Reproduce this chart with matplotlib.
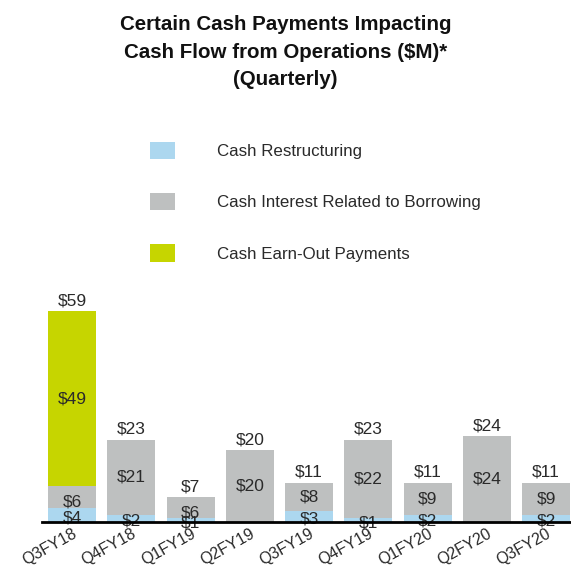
import matplotlib
matplotlib.use('Agg')
import matplotlib.pyplot as plt
import numpy as np

plt.rcParams['font.family'] = ['Liberation Sans', 'DejaVu Sans']

# данные по кварталам
quarters = ['Q3FY18', 'Q4FY18', 'Q1FY19', 'Q2FY19', 'Q3FY19',
            'Q4FY19', 'Q1FY20', 'Q2FY20', 'Q3FY20']
restructuring = [4, 2, 1, 0, 3, 1, 2, 0, 2]
interest = [6, 21, 6, 20, 8, 22, 9, 24, 9]
earn_out = [49, 0, 0, 0, 0, 0, 0, 0, 0]
totals = [59, 23, 7, 20, 11, 23, 11, 24, 11]

c_blue = '#acd7ef'
c_gray = '#bec0c0'
c_green = '#c6d500'

fig = plt.figure(figsize=(5.71, 5.70), dpi=100)
ax = fig.add_axes([42 / 571, 48 / 570, 1 - 42 / 571, 211 / 570])

x = np.arange(len(quarters))
r = np.array(restructuring)
i = np.array(interest)
e = np.array(earn_out)

b1 = ax.bar(x, r, width=0.81, color=c_blue, label='Cash Restructuring')
b2 = ax.bar(x, i, width=0.81, bottom=r, color=c_gray,
            label='Cash Interest Related to Borrowing')
b3 = ax.bar(x, e, width=0.81, bottom=r + i, color=c_green,
            label='Cash Earn-Out Payments')

fs = 12.5
tc = '#2a2a2a'
# подписи сегментов
for k in range(len(x)):
    if r[k] > 0:
        ax.text(x[k], r[k] / 2 - 0.8, f'${r[k]}', ha='center', va='center',
                fontsize=fs, color=tc, clip_on=False)
    if i[k] > 0:
        yy = r[k] + i[k] / 2
        if i[k] < 8:
            yy -= 1.5
        ax.text(x[k], yy, f'${i[k]}', ha='center', va='center',
                fontsize=fs, color=tc)
    if e[k] > 0:
        ax.text(x[k], r[k] + i[k] + e[k] / 2, f'${e[k]}', ha='center',
                va='center', fontsize=fs, color=tc)
    ax.text(x[k], totals[k] + 0.8, f'${totals[k]}', ha='center', va='bottom',
            fontsize=fs, color=tc, clip_on=False)

ax.set_xlim(-0.506, 8.42)
ax.set_ylim(0, 59)
for s in ['top', 'right', 'left']:
    ax.spines[s].set_visible(False)
ax.spines['bottom'].set_linewidth(2)
ax.spines['bottom'].set_zorder(5)
ax.set_yticks([])
ax.set_xticks(x)
ax.set_xticklabels(quarters, rotation=29, ha='right', rotation_mode='anchor',
                   fontsize=11.5, color=tc)
ax.tick_params(axis='x', length=0, pad=3)

# заголовок
fig.text(0.5, 1 - 52 / 570, 'Certain Cash Payments Impacting\n'
         'Cash Flow from Operations ($M)*\n(Quarterly)',
         ha='center', va='center', fontsize=14.8, fontweight='bold',
         linespacing=1.55, color='#111111')

fig.legend(handles=[b1, b2, b3], loc='upper left',
           bbox_to_anchor=(150 / 571, 1 - 142 / 570), frameon=False,
           fontsize=12.2, handlelength=1.47, handleheight=1.18,
           handletextpad=2.5, labelspacing=2.0, borderpad=0,
           borderaxespad=0, labelcolor=tc)

fig.savefig('out.png', dpi=100)
